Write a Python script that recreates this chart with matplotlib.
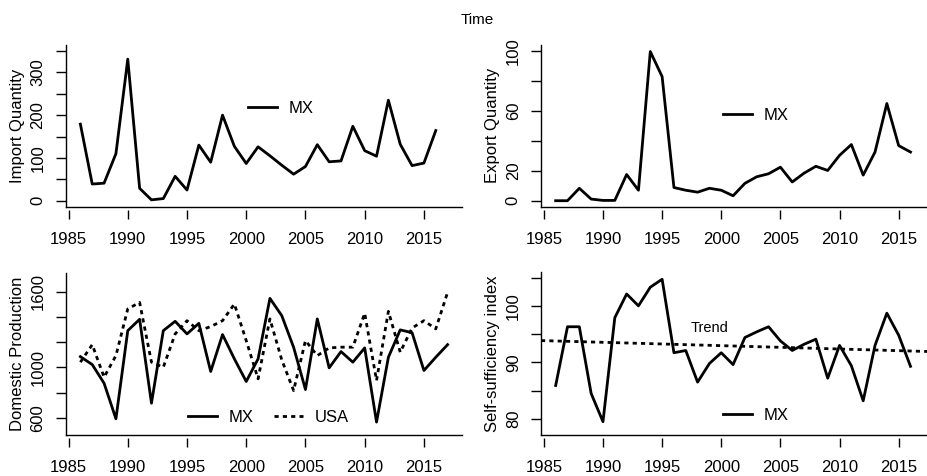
import numpy as np
import matplotlib
matplotlib.use("Agg")
import matplotlib.pyplot as plt

plt.rcParams['font.family'] = ['Liberation Sans', 'DejaVu Sans']
plt.rcParams['font.size'] = 12

years = list(range(1986, 2017))
years_prod = list(range(1986, 2018))

# import quantity, MX
imports_mx = [179, 39, 41, 110, 331, 29, 2, 5, 57, 25, 130, 90, 200, 127, 87, 126,
              105, 83, 62, 80, 131, 91, 93, 174, 117, 104, 235, 132, 82, 88, 164]

# export quantity, MX
exports_mx = [0, 0, 8.3, 1.1, 0.2, 0.2, 17.5, 7, 99.6, 82.9, 8.8, 7, 5.7, 8.3, 7, 3.3,
              11.6, 16, 18, 22.4, 12.5, 18.4, 23, 20.2, 30.3, 37.5, 17.1, 32.5, 64.9, 36.8, 32.5]

# domestic production
prod_mx = [1085, 1022, 874, 592, 1291, 1381, 716, 1291, 1365, 1265, 1349, 967, 1260, 1067,
           888, 1067, 1547, 1410, 1159, 824, 1384, 996, 1125, 1041, 1154, 566, 1080, 1297,
           1275, 975, 1080, 1180]
prod_usa = [1041, 1180, 922, 1093, 1463, 1515, 1041, 1001, 1265, 1370, 1291, 1323, 1370, 1502,
            1212, 909, 1384, 1059, 816, 1212, 1093, 1154, 1160, 1160, 1429, 896, 1444, 1120,
            1312, 1370, 1305, 1595]

# self-sufficiency index, MX
ssi_mx = [85.9, 96.3, 96.3, 84.5, 79.5, 97.9, 102.1, 100, 103.3, 104.7, 91.7, 92.1, 86.5, 89.8,
          91.7, 89.6, 94.4, 95.4, 96.3, 93.8, 92.1, 93.2, 94.1, 87.2, 93, 89.4, 83.2, 93, 98.7,
          94.8, 89.3]

W, H = 927, 476
fig = plt.figure(figsize=(W / 100, H / 100), dpi=100)


def make_ax(left, right, top, bottom):
    return fig.add_axes([left / W, 1 - bottom / H, (right - left) / W, (bottom - top) / H])


def style(ax, yticks, ylabels, ylim, ylab):
    ax.set_xlim(1984.76, 2018.24)
    ax.set_ylim(*ylim)
    for s in ['top', 'right']:
        ax.spines[s].set_visible(False)
    ax.spines['left'].set_linewidth(1)
    ax.spines['bottom'].set_linewidth(1)
    ax.tick_params(axis='x', bottom=False, labelbottom=False)
    ax.set_yticks(yticks)
    ax.set_yticklabels(ylabels)
    ax.tick_params(axis='y', length=7, width=1, pad=7.5, labelsize=12)
    plt.setp(ax.get_yticklabels(), rotation=90, va='center')
    ax.set_ylabel(ylab, fontsize=12)
    ax.yaxis.set_label_coords(-0.103, 0.5)
    sec = ax.secondary_xaxis(-0.021)
    for s in sec.spines.values():
        s.set_visible(False)
    sec.set_xticks([1985, 1990, 1995, 2000, 2005, 2010, 2015])
    sec.tick_params(axis='x', length=6.7, width=1, pad=9, labelsize=12)


def legend(ax, handles, labels, x, y, ncol=1):
    ax.legend(handles, labels, loc='center left', bbox_to_anchor=(x, y), frameon=False,
              borderpad=0, borderaxespad=0, handlelength=1.75, handletextpad=0.7,
              columnspacing=1.2, ncol=ncol, fontsize=12)


# panel 1: imports
ax1 = make_ax(65.7, 462.3, 45, 206.7)
l1, = ax1.plot(years, imports_mx, color='black', lw=2)
style(ax1, np.arange(0, 351, 50), ['0', '', '100', '', '200', '', '300', ''], (-14, 364),
      'Import Quantity')
legend(ax1, [l1], ['MX'], 0.46, 0.61)

# panel 2: exports
ax2 = make_ax(541, 937, 45, 206.7)
l2, = ax2.plot(years, exports_mx, color='black', lw=2)
style(ax2, [0, 20, 40, 60, 80, 100], ['0', '20', '', '60', '', '100'], (-4, 104),
      'Export Quantity')
legend(ax2, [l2], ['MX'], 0.4596, 0.567)

# panel 3: domestic production
ax3 = make_ax(65.7, 462.3, 272.5, 434.7)
l3, = ax3.plot(years_prod, prod_mx, color='black', lw=2)
l4, = ax3.plot(years_prod, prod_usa, color='black', lw=2, ls=(0, (1.5, 1.5)))
style(ax3, [600, 800, 1000, 1200, 1400, 1600], ['600', '', '1000', '', '', '1600'], (466, 1752),
      'Domestic Production')
legend(ax3, [l3, l4], ['MX', 'USA'], 0.308, 0.109, ncol=2)

# panel 4: self-sufficiency with linear trend
ax4 = make_ax(541, 937, 272.5, 434.7)
l5, = ax4.plot(years, ssi_mx, color='black', lw=2)
slope, icpt = np.polyfit(years, ssi_mx, 1)
ax4.axline((2000, slope * 2000 + icpt), slope=slope, color='black', lw=2, ls=(0, (1.5, 1.5)))
style(ax4, [80, 85, 90, 95, 100, 105], ['80', '', '90', '', '100', ''], (77.2, 105.9),
      'Self-sufficiency index')
ax4.text(1999, 96, 'Trend', ha='center', va='center', fontsize=10.5)
legend(ax4, [l5], ['MX'], 0.4596, 0.121)

fig.text(477 / W, 1 - 20 / H, 'Time', ha='center', va='center', fontsize=11)

fig.savefig('out.png', dpi=100)
